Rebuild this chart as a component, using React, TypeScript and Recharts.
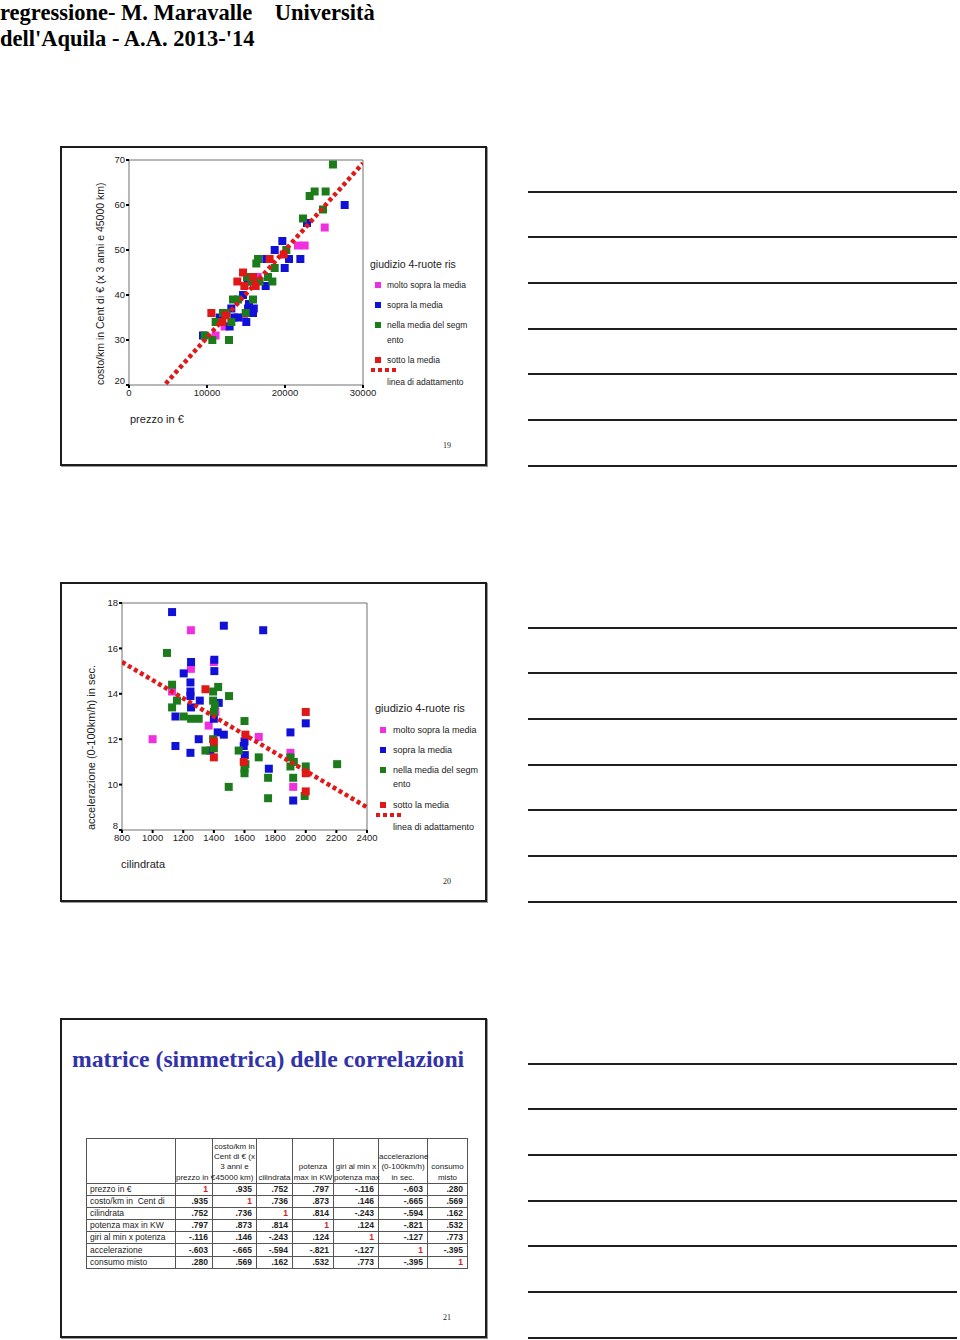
import React from "react";
import { ScatterChart, Scatter, XAxis, YAxis, ZAxis, ReferenceArea, Label } from "recharts";

// ---- slide 19: prezzo vs costo/km ----
const prezzoTicks = [0, 10000, 20000, 30000];
const costoTicks = [20, 30, 40, 50, 60, 70];

const costoMoltoSopra = [
  { x: 11100, y: 31 }, { x: 12260, y: 33 }, { x: 14740, y: 35 }, { x: 16500, y: 44 },
  { x: 21670, y: 51 }, { x: 22520, y: 51 }, { x: 25090, y: 55 },
];
const costoSopra = [
  { x: 9490, y: 31 }, { x: 11620, y: 35 }, { x: 11800, y: 34 }, { x: 12900, y: 33 },
  { x: 13120, y: 37 }, { x: 13500, y: 35 }, { x: 14000, y: 35 }, { x: 15040, y: 34 },
  { x: 14620, y: 40 }, { x: 15200, y: 43 }, { x: 15260, y: 37 }, { x: 15380, y: 38 },
  { x: 15900, y: 36 }, { x: 16000, y: 37 }, { x: 17520, y: 42 }, { x: 17600, y: 48 },
  { x: 18680, y: 50 }, { x: 19660, y: 52 }, { x: 19960, y: 46 }, { x: 20510, y: 48 },
  { x: 21970, y: 48 }, { x: 22820, y: 56 }, { x: 27650, y: 60 },
];
const costoNellaMedia = [
  { x: 9700, y: 31 }, { x: 10680, y: 30 }, { x: 11110, y: 34 }, { x: 12050, y: 36 },
  { x: 12500, y: 36 }, { x: 12820, y: 30 }, { x: 13120, y: 34 }, { x: 13330, y: 39 },
  { x: 13970, y: 39 }, { x: 14960, y: 36 }, { x: 15130, y: 44 }, { x: 15700, y: 43 },
  { x: 15900, y: 39 }, { x: 16320, y: 47 }, { x: 16540, y: 48 }, { x: 16750, y: 43 },
  { x: 17820, y: 44 }, { x: 18380, y: 43 }, { x: 18680, y: 46 }, { x: 20170, y: 50 },
  { x: 22310, y: 57 }, { x: 23160, y: 62 }, { x: 23800, y: 63 }, { x: 24870, y: 59 },
  { x: 25210, y: 63 }, { x: 26150, y: 69 },
];
const costoSotto = [
  { x: 10560, y: 36 }, { x: 11970, y: 34 }, { x: 12400, y: 35.5 }, { x: 13890, y: 43 },
  { x: 14620, y: 45 }, { x: 14790, y: 42 }, { x: 15900, y: 44 }, { x: 16240, y: 42 },
  { x: 18030, y: 48 }, { x: 19830, y: 49 },
];
const costoFit = [{ x: 4700, y: 20.3 }, { x: 30000, y: 69.3 }];

// ---- slide 20: cilindrata vs accelerazione ----
const cilTicks = [800, 1000, 1200, 1400, 1600, 1800, 2000, 2200, 2400];
const accTicks = [8, 10, 12, 14, 16, 18];

const accMoltoSopra = [
  { x: 1000, y: 12 }, { x: 1250, y: 16.8 }, { x: 1250, y: 15.1 }, { x: 1127, y: 14.1 },
  { x: 1366, y: 12.6 }, { x: 1400, y: 15.4 }, { x: 1410, y: 13.2 }, { x: 1693, y: 12.1 },
  { x: 1900, y: 11.4 }, { x: 1918, y: 9.9 },
];
const accSopra = [
  { x: 1127, y: 17.6 }, { x: 1465, y: 17.0 }, { x: 1722, y: 16.8 }, { x: 1203, y: 14.9 },
  { x: 1251, y: 15.4 }, { x: 1247, y: 14.5 }, { x: 1247, y: 14.1 }, { x: 1247, y: 13.9 },
  { x: 1251, y: 13.4 }, { x: 1308, y: 13.7 }, { x: 1403, y: 15.5 }, { x: 1403, y: 15.0 },
  { x: 1432, y: 13.6 }, { x: 1400, y: 12.9 }, { x: 1425, y: 12.3 }, { x: 1465, y: 12.2 },
  { x: 1149, y: 13.0 }, { x: 1149, y: 11.7 }, { x: 1301, y: 12.0 }, { x: 1247, y: 11.4 },
  { x: 1377, y: 11.5 }, { x: 1600, y: 11.9 }, { x: 1595, y: 11.7 }, { x: 1602, y: 11.3 },
  { x: 1759, y: 10.7 }, { x: 1900, y: 12.3 }, { x: 2000, y: 12.7 }, { x: 1918, y: 9.3 },
];
const accNellaMedia = [
  { x: 1094, y: 15.8 }, { x: 1127, y: 14.4 }, { x: 1127, y: 13.4 }, { x: 1159, y: 13.7 },
  { x: 1203, y: 13.0 }, { x: 1251, y: 12.9 }, { x: 1301, y: 12.9 }, { x: 1345, y: 11.5 },
  { x: 1395, y: 14.1 }, { x: 1395, y: 13.7 }, { x: 1400, y: 13.2 }, { x: 1406, y: 13.5 },
  { x: 1428, y: 14.3 }, { x: 1499, y: 13.9 }, { x: 1395, y: 12.0 }, { x: 1400, y: 11.6 },
  { x: 1497, y: 9.9 }, { x: 1562, y: 11.5 }, { x: 1600, y: 12.8 }, { x: 1600, y: 10.7 },
  { x: 1600, y: 10.5 }, { x: 1606, y: 10.9 }, { x: 1693, y: 11.2 }, { x: 1754, y: 10.3 },
  { x: 1754, y: 9.4 }, { x: 1900, y: 11.2 }, { x: 1900, y: 10.8 }, { x: 1922, y: 11.0 },
  { x: 1918, y: 10.3 }, { x: 2000, y: 10.8 }, { x: 1993, y: 9.5 }, { x: 2205, y: 10.9 },
];
const accSotto = [
  { x: 1345, y: 14.2 }, { x: 1400, y: 11.9 }, { x: 1400, y: 11.2 }, { x: 1595, y: 11.0 },
  { x: 1606, y: 12.2 }, { x: 2000, y: 13.2 }, { x: 2000, y: 10.5 }, { x: 2000, y: 9.7 },
];
const accFit = [{ x: 800, y: 15.4 }, { x: 2400, y: 9.0 }];

// ---- slide 21: correlation matrix ----
const corrRowLabels = [
  "prezzo in €", "costo/km in  Cent di", "cilindrata", "potenza max in KW",
  "giri al min x potenza", "accelerazione", "consumo misto",
];
const corrHeaders = [
  ["prezzo in €"],
  ["costo/km in", "Cent di € (x", "3 anni e", "45000 km)"],
  ["cilindrata"],
  ["potenza", "max in KW"],
  ["giri al min x", "potenza max"],
  ["accelerazione", "(0-100km/h)", "in sec."],
  ["consumo", "misto"],
];
const corrValues = [
  ["1", ".935", ".752", ".797", "-.116", "-.603", ".280"],
  [".935", "1", ".736", ".873", ".146", "-.665", ".569"],
  [".752", ".736", "1", ".814", "-.243", "-.594", ".162"],
  [".797", ".873", ".814", "1", ".124", "-.821", ".532"],
  ["-.116", ".146", "-.243", ".124", "1", "-.127", ".773"],
  ["-.603", "-.665", "-.594", "-.821", "-.127", "1", "-.395"],
  [".280", ".569", ".162", ".532", ".773", "-.395", "1"],
];

const legendTitle = "giudizio 4-ruote ris";
const legendNames = ["molto sopra la media", "sopra la media", "nella media del segm", "sotto la media"];
const fitName = "linea di adattamento";

const PINK = "#f030e0";
const BLUE = "#1010d8";
const GREEN = "#1c7c1c";
const RED = "#e01818";
const SANS = '"Liberation Sans", Arial, sans-serif';
const SERIF = '"Liberation Serif", "Times New Roman", serif';

const colWidths = [89, 37, 44, 36, 41, 45, 49, 40];
const ruleYs = [191.7, 237.3, 283, 328.7, 374.3, 420, 465.7];
const slideTops = [146, 582, 1018];

// y tick: the lowest label sits a little above its tick, as in the original
function YTick(props: any) {
  const { x, y, payload, bottomValue } = props;
  const dy = payload.value === bottomValue ? -4 : 0;
  return (
    <text x={x} y={y + dy} dy="0.35em" textAnchor="end" fill="#222" fontSize={9.5} fontFamily={SANS}>
      {payload.value}
    </text>
  );
}

function Panel(p: any) {
  const tick = { fill: "#222", fontSize: 9.5, fontFamily: SANS };
  const series = [
    { data: p.pink, color: PINK },
    { data: p.blue, color: BLUE },
    { data: p.green, color: GREEN },
    { data: p.red, color: RED },
  ];
  return (
    <div style={{ position: "absolute", left: 60, top: p.top }}>
      <ScatterChart width={427} height={319} margin={p.margin}>
        <XAxis type="number" dataKey="x" domain={p.xDomain} ticks={p.xTicks} interval={0}
          tick={tick} tickSize={3} tickMargin={1} tickLine={{ stroke: "#000", strokeWidth: 2 }}
          axisLine={false} height={40} allowDataOverflow>
          <Label content={(props: any) => {
            const vb = props.viewBox;
            return <text x={vb.x + p.xLabelDx} y={vb.y + 38} fontSize={11} fontFamily={SANS} fill="#222">{p.xLabel}</text>;
          }} />
        </XAxis>
        <YAxis type="number" dataKey="y" domain={p.yDomain} ticks={p.yTicks} interval={0}
          tick={<YTick bottomValue={p.yDomain[0]} />} tickSize={3} tickMargin={1} tickLine={{ stroke: "#000", strokeWidth: 2 }}
          axisLine={false} width={p.yAxisWidth} allowDataOverflow>
          <Label content={(props: any) => {
            const vb = props.viewBox;
            const x = vb.x + p.yLabelDx;
            const y = vb.y + vb.height;
            return (
              <text x={x} y={y} transform={`rotate(-90 ${x} ${y})`} fontSize={p.yLabelSize}
                fontFamily={SANS} fill="#222" textAnchor="start">{p.yLabel}</text>
            );
          }} />
        </YAxis>
        <ZAxis range={[p.symbolSize, p.symbolSize]} />
        <ReferenceArea x1={p.xDomain[0]} x2={p.xDomain[1]} y1={p.yDomain[0]} y2={p.yDomain[1]}
          fill="#fff" fillOpacity={0} stroke="#707070" strokeWidth={1} />
        {series.map((s, i) => (
          <Scatter key={i} data={s.data} fill={s.color} shape="square" isAnimationActive={false} />
        ))}
        <Scatter data={p.fit} fill={RED} shape={() => <g />} isAnimationActive={false}
          line={{ stroke: RED, strokeWidth: 4.5, strokeDasharray: "4 3" }} />
      </ScatterChart>
      <div style={{ position: "absolute", left: p.legendLeft - 60, top: p.legendTop - p.top, fontFamily: SANS, color: "#222" }}>
        <div style={{ fontSize: p.legendTitleSize, lineHeight: "14px", whiteSpace: "nowrap" }}>{legendTitle}</div>
        {legendNames.map((n, i) => (
          <div key={n} style={{ position: "absolute", top: p.rowY[i], left: 0, whiteSpace: "nowrap" }}>
            <span style={{ position: "absolute", left: 5, top: 3, width: 6, height: 6, background: series[i].color }} />
            <span style={{ position: "absolute", left: p.textDx, top: 0, fontSize: p.itemSize, lineHeight: "12px" }}>{n}</span>
            {i === 2 && (
              <span style={{ position: "absolute", left: p.textDx, top: p.wrapDy, fontSize: p.itemSize, lineHeight: "12px" }}>ento</span>
            )}
          </div>
        ))}
        <svg style={{ position: "absolute", left: 0, top: p.rowY[4] }} width={30} height={8}>
          <line x1={1} y1={4} x2={28} y2={4} stroke={RED} strokeWidth={4} strokeDasharray="4 3" />
        </svg>
        <span style={{ position: "absolute", left: p.textDx, top: p.rowY[4] + 10, fontSize: p.itemSize, lineHeight: "12px", whiteSpace: "nowrap" }}>{fitName}</span>
      </div>
    </div>
  );
}

export default function App() {
  const cellBorder = "1px solid #555";
  return (
    <div style={{ position: "absolute", left: 0, top: 0, width: 960, height: 1340, background: "#fff", overflow: "hidden" }}>
      <div style={{ position: "absolute", left: 0, top: 0, fontFamily: SERIF, fontWeight: "bold", fontSize: 22.5, lineHeight: "26px", color: "#000", whiteSpace: "pre" }}>
        {"regressione- M. Maravalle    Università\ndell'Aquila - A.A. 2013-'14"}
      </div>

      {slideTops.map((t, k) => (
        <React.Fragment key={t}>
          <div style={{ position: "absolute", left: 60, top: t, width: 427, height: 320, boxSizing: "border-box", border: "2px solid #1c1c1c", boxShadow: "1px 1px 0 #999" }} />
          <div style={{ position: "absolute", left: 443, top: t + 295, fontFamily: SERIF, fontSize: 8, color: "#222" }}>{19 + k}</div>
          {ruleYs.map((y) => (
            <div key={y} style={{ position: "absolute", left: 528, top: y - 1 + (t - 146), width: 429, height: 2, background: "#1e1e1e" }} />
          ))}
        </React.Fragment>
      ))}

      <Panel top={146} margin={{ top: 14, right: 124, bottom: 40, left: 39 }} yAxisWidth={30}
        xDomain={[0, 30000]} yDomain={[20, 70]} xTicks={prezzoTicks} yTicks={costoTicks}
        pink={costoMoltoSopra} blue={costoSopra} green={costoNellaMedia} red={costoSotto} fit={costoFit}
        xLabel="prezzo in €" xLabelDx={1} yLabel="costo/km in  Cent di € (x 3 anni e 45000 km)" yLabelDx={5} yLabelSize={10.5}
        symbolSize={36} legendLeft={370} legendTop={257} legendTitleSize={10.5} itemSize={8.5} textDx={17}
        rowY={[22, 42, 62, 97, 109]} wrapDy={15} />

      <Panel top={582} margin={{ top: 21, right: 120, bottom: 31, left: 37 }} yAxisWidth={25}
        xDomain={[800, 2400]} yDomain={[8, 18]} xTicks={cilTicks} yTicks={accTicks}
        pink={accMoltoSopra} blue={accSopra} green={accNellaMedia} red={accSotto} fit={accFit}
        xLabel="cilindrata" xLabelDx={-1} yLabel="accelerazione (0-100km/h) in sec." yLabelDx={-2} yLabelSize={11}
        symbolSize={40} legendLeft={375} legendTop={701} legendTitleSize={11} itemSize={9} textDx={18}
        rowY={[23, 43, 63, 98, 110]} wrapDy={14} />

      <div style={{ position: "absolute", left: 72, top: 1044, fontFamily: SERIF, fontWeight: "bold", fontSize: 23.7, lineHeight: "30px", color: "#3232aa", whiteSpace: "nowrap" }}>
        matrice (simmetrica) delle correlazioni
      </div>

      <table style={{ position: "absolute", left: 86, top: 1138, width: 381, borderCollapse: "collapse", tableLayout: "fixed", border: "1.5px solid #222", fontFamily: SANS, fontSize: 8.5, color: "#222" }}>
        <colgroup>
          {colWidths.map((w, i) => <col key={i} style={{ width: w }} />)}
        </colgroup>
        <tbody>
          <tr style={{ height: 45 }}>
            <td style={{ border: cellBorder, padding: 0 }} />
            {corrHeaders.map((lines, i) => (
              <td key={i} style={{ border: cellBorder, padding: 0, verticalAlign: "bottom", textAlign: "center", whiteSpace: "nowrap", lineHeight: "10.3px", fontSize: 8 }}>
                {lines.map((l) => <div key={l}>{l}</div>)}
              </td>
            ))}
          </tr>
          {corrRowLabels.map((lab, r) => (
            <tr key={lab} style={{ height: 12.1 }}>
              <td style={{ border: cellBorder, padding: "0 0 0 3px", whiteSpace: "pre", overflow: "hidden", lineHeight: "11px" }}>{lab}</td>
              {corrValues[r].map((v, c) => (
                <td key={c} style={{ border: cellBorder, padding: "0 4px 0 0", textAlign: "right", fontWeight: "bold", lineHeight: "11px", color: v === "1" ? "#cc2222" : "#222" }}>{v}</td>
              ))}
            </tr>
          ))}
        </tbody>
      </table>
    </div>
  );
}
